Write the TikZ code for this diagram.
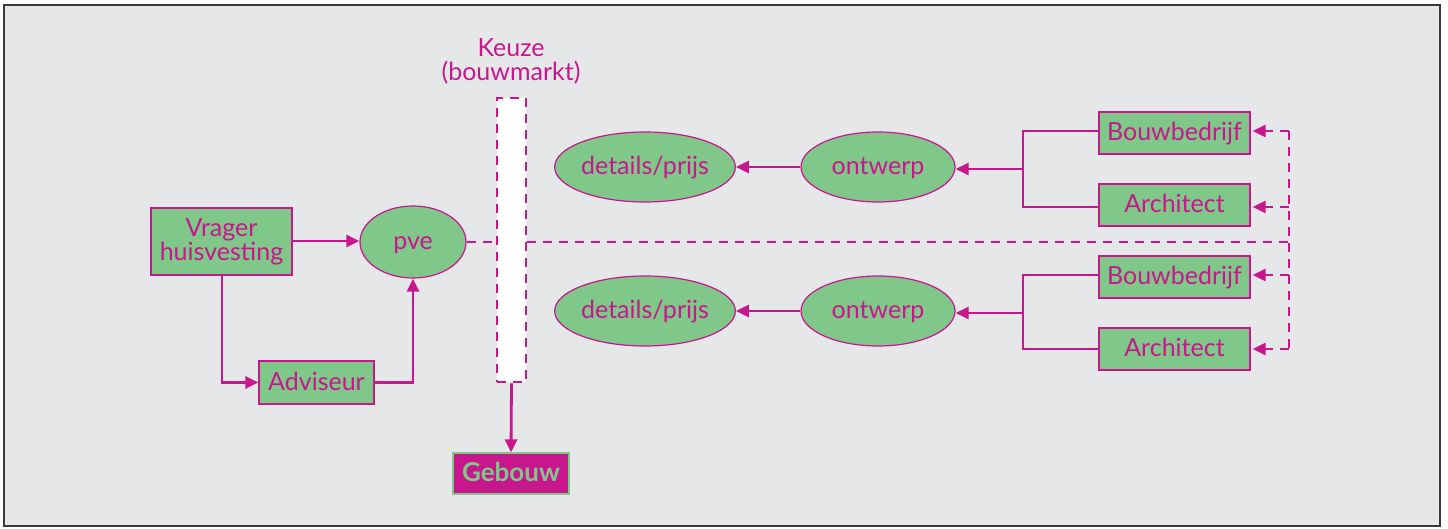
\documentclass[tikz,border=0pt]{standalone}
\usepackage{fontspec}
\setmainfont{Lato}
\usetikzlibrary{shapes.geometric,arrows.meta}
\definecolor{mag}{HTML}{C8168C}
\definecolor{grn}{HTML}{80C88A}
\definecolor{bg}{HTML}{E6E7E9}
\definecolor{frame}{HTML}{3A3A3A}
\tikzset{
  txt/.style={font=\fontsize{25}{24}\selectfont},
  one/.style={text height=15pt, text depth=0pt},
  box/.style={draw=mag, fill=grn, line width=1.2pt, text=mag, txt, inner sep=0pt, align=center},
  ell/.style={ellipse, draw=mag, fill=grn, line width=1.2pt, text=mag, txt, inner sep=0pt, one},
  conn/.style={draw=mag, line width=2.8pt},
  arr/.style={conn, -{Triangle[length=13pt,width=12pt]}},
  dconn/.style={draw=mag, line width=2.8pt, dash pattern=on 9pt off 7pt},
  darr/.style={dconn, -{Triangle[length=13pt,width=12pt]}},
}
\begin{document}
\begin{tikzpicture}[x=1pt,y=-1pt]
\useasboundingbox (0,0) rectangle (1448,529);
\fill[white] (0,0) rectangle (1448,529);
\draw[fill=bg, draw=frame, line width=1.5pt] (4,5) rectangle (1440,526);

% left part
\node[box, minimum width=141pt, minimum height=67pt] (vrager) at (221.5,241.5) {Vrager\\huisvesting};
\node[ell, minimum width=106pt, minimum height=72pt] (pve) at (413,242) {pve};
\node[box, one, minimum width=115pt, minimum height=43pt] (adv) at (316.5,382.5) {Adviseur};

\draw[arr] (vrager.east |- 0,241) -- (pve.west |- 0,241);
\draw[arr] (222,275) |- (adv.west);
\draw[arr] (adv.east) -| (pve.south);

% Keuze bar
\node[text=mag, txt, align=center] (keuzelbl) at (511,61) {Keuze\\(bouwmarkt)};
\node[draw=mag, fill=white, line width=2.8pt, dash pattern=on 9pt off 7pt, minimum width=29pt, minimum height=284pt, inner sep=0pt] (bar) at (511.5,240) {};
\node[draw=grn, fill=mag, line width=1.2pt, minimum width=116pt, minimum height=41pt, inner sep=0pt, text=grn, one, font=\fontsize{26}{26}\selectfont\bfseries] (geb) at (511,473.5) {Gebouw};
\draw[arr] (bar.south) -- (geb.north);

% right ellipses
\node[ell, minimum width=176pt, minimum height=70pt] (det1) at (645,167) {details/prijs};
\node[ell, minimum width=154pt, minimum height=70pt] (ont1) at (878,167) {ontwerp};
\node[ell, minimum width=176pt, minimum height=70pt] (det2) at (645,311) {details/prijs};
\node[ell, minimum width=154pt, minimum height=70pt] (ont2) at (878,311) {ontwerp};

\node[box, one, minimum width=151pt, minimum height=42pt] (bb1) at (1174.5,133) {Bouwbedrijf};
\node[box, one, minimum width=151pt, minimum height=42pt] (ar1) at (1174.5,205) {Architect};
\node[box, one, minimum width=151pt, minimum height=42pt] (bb2) at (1174.5,277) {Bouwbedrijf};
\node[box, one, minimum width=151pt, minimum height=42pt] (ar2) at (1174.5,349) {Architect};

\coordinate (j1) at (1023,169);
\coordinate (j2) at (1023,313);
\draw[conn] (bb1.west |- 0,131) -| (1023,207) -- (ar1.west |- 0,207);
\draw[conn] (bb2.west |- 0,275) -| (1023,349) -- (ar2.west |- 0,349);
\draw[arr] (j1) -- (ont1.east |- j1);
\draw[arr] (j2) -- (ont2.east |- j2);
\draw[arr] (ont1.west) -- (det1.east);
\draw[arr] (ont2.west) -- (det2.east);

% dashed feedback
\coordinate (dt) at (1289,131);
\coordinate (db) at (1289,349);
\coordinate (dm) at (1289,242);
\draw[dconn] (pve.east) -- (bar.west |- pve.east);
\draw[dconn] (bar.east |- pve.east) -- (dm);
\draw[dconn] (dt) -- (db);
\draw[darr] (dt) -- ([xshift=2pt]bb1.east |- dt);
\draw[darr] (1289,207) -- ([xshift=2pt]ar1.east |- 0,207);
\draw[darr] (1289,275) -- ([xshift=2pt]bb2.east |- 0,275);
\draw[darr] (db) -- ([xshift=2pt]ar2.east |- db);
\end{tikzpicture}
\end{document}
